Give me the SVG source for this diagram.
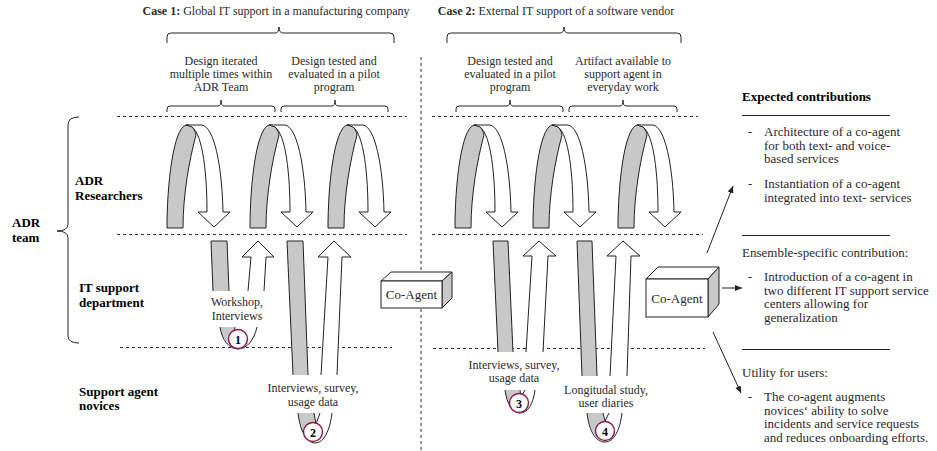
<svg xmlns="http://www.w3.org/2000/svg" xmlns:xlink="http://www.w3.org/1999/xlink" width="937" height="451" viewBox="0 0 937 451">
<style>
.t{font-family:"Liberation Serif","Times New Roman",serif;font-size:12px;fill:#2a2a2a}
.m{text-anchor:middle}
.b{font-weight:bold;font-size:13px;fill:#000}
.r{font-size:13px}
.dash{fill:none;stroke:#333;stroke-width:1;stroke-dasharray:3 3}
.br{fill:none;stroke:#222;stroke-width:1}
.g{fill:#c8c8c8;stroke:#222;stroke-width:1}
.w{fill:#fff;stroke:#222;stroke-width:1}
.ln{fill:none;stroke:#222;stroke-width:1}
.c{fill:#fff;stroke:#8b1a4b;stroke-width:1.4}
.n{font-family:"Liberation Serif","Times New Roman",serif;font-size:12px;font-weight:bold;fill:#000;text-anchor:middle}
.side{fill:#c8c8c8;stroke:#222;stroke-width:1}
.con{fill:none;stroke:#222;stroke-width:1}
</style>
<defs>
<marker id="ah" markerWidth="8" markerHeight="8" refX="7" refY="4" orient="auto" markerUnits="userSpaceOnUse">
<path d="M0,1 L7,4 L0,7 Z" fill="#222"/>
</marker>
<g id="loop">
<path class="g" d="M0,103 C0,60 6,4 19,0 C24,-1 28,4 29,10 C22,36 16,70 16,103 Z"/>
<path class="w" d="M19,0 L35,0 C47,2 55,40 56,87 L63,87 L47,102 L31,87 L40,87 C40,50 36,10 25,2 Z"/>
</g>
</defs>
<rect width="937" height="451" fill="#fff"/>

<g id="titles">
<text class="t m" x="276" y="15"><tspan font-weight="bold">Case 1:</tspan> Global IT support in a manufacturing company</text>
<text class="t m" x="556" y="15"><tspan font-weight="bold">Case 2:</tspan> External IT support of a software vendor</text>
</g>

<g id="braces">
<path class="br" d="M167,43 L167,37 Q167,33 171,33 L275,33 Q279,33 279,27 Q279,33 283,33 L390,33 Q394,33 394,37 L394,43"/>
<path class="br" d="M447,43 L447,37 Q447,33 451,33 L560,33 Q564,33 564,27 Q564,33 568,33 L677,33 Q681,33 681,37 L681,43"/>
<path class="br" d="M167,112 L167,109 Q167,106 170,106 L218,106 Q221,106 221,100 Q221,106 224,106 L272,106 Q275,106 275,109 L275,112"/>
<path class="br" d="M281,112 L281,109 Q281,106 284,106 L332,106 Q335,106 335,100 Q335,106 338,106 L385,106 Q388,106 388,109 L388,112"/>
<path class="br" d="M456,112 L456,109 Q456,106 459,106 L507,106 Q510,106 510,100 Q510,106 513,106 L560,106 Q563,106 563,109 L563,112"/>
<path class="br" d="M569,112 L569,109 Q569,106 572,106 L620,106 Q623,106 623,100 Q623,106 626,106 L674,106 Q677,106 677,109 L677,112"/>
<path class="br" d="M79,117 Q68,117 68,125 L68,224 Q68,231 57,231 Q68,231 68,238 L68,336 Q68,343 79,343"/>
</g>

<g id="phase-labels">
<text class="t m" x="221" y="65">Design iterated</text>
<text class="t m" x="221" y="78">multiple times within</text>
<text class="t m" x="221" y="91">ADR Team</text>
<text class="t m" x="334" y="65">Design tested and</text>
<text class="t m" x="334" y="78">evaluated in a pilot</text>
<text class="t m" x="334" y="91">program</text>
<text class="t m" x="510" y="65">Design tested and</text>
<text class="t m" x="510" y="78">evaluated in a pilot</text>
<text class="t m" x="510" y="91">program</text>
<text class="t m" x="623" y="65">Artifact available to</text>
<text class="t m" x="623" y="78">support agent in</text>
<text class="t m" x="623" y="91">everyday work</text>
</g>

<g id="lanes">
<line class="dash" x1="117" y1="116.5" x2="407" y2="116.5"/>
<line class="dash" x1="432" y1="116.5" x2="698" y2="116.5"/>
<line class="dash" x1="117" y1="234.5" x2="407" y2="234.5"/>
<line class="dash" x1="432" y1="234.5" x2="703" y2="234.5"/>
<line class="dash" x1="120" y1="347.5" x2="392" y2="347.5"/>
<line class="dash" x1="433" y1="348.5" x2="705" y2="348.5"/>
<line class="dash" x1="421" y1="57" x2="421" y2="451"/>
</g>

<g id="role-labels">
<text class="t b" x="12" y="227">ADR</text>
<text class="t b" x="12" y="242">team</text>
<text class="t b" x="75" y="185">ADR</text>
<text class="t b" x="75" y="200">Researchers</text>
<text class="t b" x="79" y="292">IT support</text>
<text class="t b" x="79" y="307">department</text>
<text class="t b" x="79" y="396">Support agent</text>
<text class="t b" x="79" y="410">novices</text>
</g>

<g id="loops">
<use xlink:href="#loop" href="#loop" transform="translate(167,125)"/>
<use xlink:href="#loop" href="#loop" transform="translate(250,125)"/>
<use xlink:href="#loop" href="#loop" transform="translate(328,125)"/>
<use xlink:href="#loop" href="#loop" transform="translate(455,125)"/>
<use xlink:href="#loop" href="#loop" transform="translate(533,125)"/>
<use xlink:href="#loop" href="#loop" transform="translate(618,125)"/>
</g>

<g id="eval-1">
<path class="g" d="M213,291 L211,241 L227,241 L229,291"/>
<path class="w" d="M248,291 L251,257 L242,257 L258,241 L274,257 L266,257 L264,291"/>
<text class="t m" x="237" y="306">Workshop,</text>
<text class="t m" x="237" y="320">Interviews</text>
<path d="M220,327 L235,327 L233,345 C227,344 222,337 220,327 Z" fill="#c8c8c8"/>
<path class="ln" d="M220,327 C222,340 229,349 238,349 C247,349 254,340 257,327"/>
<path class="ln" d="M235,327 L234,333"/>
<circle class="c" cx="238" cy="339" r="9.5"/>
<text class="n" x="238" y="343.5">1</text>
</g>

<g id="eval-2">
<path class="g" d="M293,375 L287,241 L303,241 L308,375"/>
<path class="w" d="M321,375 L328,257 L318,257 L334,241 L351,257 L342,257 L337,375"/>
<text class="t m" x="313" y="392">Interviews, survey,</text>
<text class="t m" x="313" y="406">usage data</text>
<path d="M298,413 L314,413 L316,424 L307,439 C302,433 299,424 298,413 Z" fill="#c8c8c8"/>
<path class="ln" d="M298,413 C300,430 306,443 315,443 C324,443 330,430 332,413"/>
<path class="ln" d="M314,413 L316,424 L320,413"/>
<circle class="c" cx="313" cy="432" r="9.5"/>
<text class="n" x="313" y="436.5">2</text>
</g>

<g id="eval-3">
<path class="g" d="M498,352 L493,241 L508,241 L513,352"/>
<path class="w" d="M526,352 L532,256 L523,256 L539,241 L556,256 L548,256 L543,352"/>
<text class="t m" x="514" y="369">Interviews, survey,</text>
<text class="t m" x="514" y="382">usage data</text>
<path d="M505,390 L520,390 L521,398 L512,410 C508,404 506,397 505,390 Z" fill="#c8c8c8"/>
<path class="ln" d="M505,390 C507,404 512,413 520,413 C528,413 533,404 535,390"/>
<path class="ln" d="M520,390 L521,397 L525,390"/>
<circle class="c" cx="519" cy="403" r="9.5"/>
<text class="n" x="519" y="407.5">3</text>
</g>

<g id="eval-4">
<path class="g" d="M582,376 L577,241 L592,241 L597,376"/>
<path class="w" d="M610,376 L616,256 L607,256 L623,241 L640,256 L631,256 L627,376"/>
<text class="t m" x="606" y="394">Longitudal study,</text>
<text class="t m" x="606" y="407">user diaries</text>
<path d="M587,413 L603,413 L604,421 L597,438 C592,432 588,424 587,413 Z" fill="#c8c8c8"/>
<path class="ln" d="M587,413 C589,430 595,442 605,442 C614,442 620,430 622,413"/>
<path class="ln" d="M603,413 L605,421 L609,413"/>
<circle class="c" cx="605" cy="431" r="9.5"/>
<text class="n" x="605" y="435.5">4</text>
</g>

<g id="coagent-1">
<polygon class="w" points="381,281 391,272 452,272 442,281"/>
<polygon class="side" points="442,281 452,272 452,298 442,308"/>
<rect class="w" x="381" y="281" width="61" height="27"/>
<text class="t r m" x="411.5" y="298.5">Co-Agent</text>
</g>

<g id="coagent-2">
<polygon class="w" points="646,279 658,267 719,267 708,279"/>
<polygon class="side" points="708,279 719,267 719,304 708,317"/>
<rect class="w" x="646" y="279" width="62" height="38"/>
<text class="t r m" x="677" y="303">Co-Agent</text>
</g>

<g id="connectors">
<line class="con" x1="707" y1="253" x2="733" y2="186" marker-end="url(#ah)"/>
<line class="con" x1="722" y1="288" x2="742" y2="288" marker-end="url(#ah)"/>
<line class="con" x1="713" y1="332" x2="741" y2="393" marker-end="url(#ah)"/>
</g>

<g id="contributions">
<text class="t b" x="742" y="101">Expected contributions</text>
<line class="ln" x1="742" y1="115.5" x2="890" y2="115.5"/>
<text class="t r" x="748" y="136">-</text>
<text class="t r" x="764" y="136">Architecture of a co-agent</text>
<text class="t r" x="764" y="149.5">for both text- and voice-</text>
<text class="t r" x="764" y="163">based services</text>
<text class="t r" x="748" y="188">-</text>
<text class="t r" x="764" y="188">Instantiation of a co-agent</text>
<text class="t r" x="764" y="201.5">integrated into text- services</text>
<line class="ln" x1="742" y1="235.5" x2="890" y2="235.5"/>
<text class="t r" x="742" y="257">Ensemble-specific contribution:</text>
<text class="t r" x="748" y="281">-</text>
<text class="t r" x="764" y="281">Introduction of a co-agent in</text>
<text class="t r" x="764" y="294.5">two different IT support service</text>
<text class="t r" x="764" y="308">centers allowing for</text>
<text class="t r" x="764" y="321.5">generalization</text>
<line class="ln" x1="742" y1="349.5" x2="890" y2="349.5"/>
<text class="t r" x="742" y="377">Utility for users:</text>
<text class="t r" x="748" y="401">-</text>
<text class="t r" x="764" y="401">The co-agent augments</text>
<text class="t r" x="764" y="414.5">novices‘ ability to solve</text>
<text class="t r" x="764" y="428">incidents and service requests</text>
<text class="t r" x="764" y="441.5">and reduces onboarding efforts.</text>
</g>
</svg>
